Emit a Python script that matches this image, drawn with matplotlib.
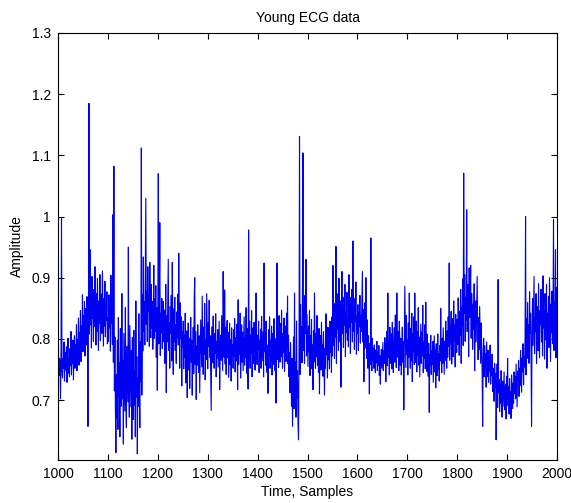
import numpy as np
import matplotlib
matplotlib.use("Agg")
import matplotlib.pyplot as plt

plt.rcParams['font.family'] = ['Liberation Sans', 'DejaVu Sans']

# Amplitude values in thousandths, 50 samples per block, starting at sample 1000
blk_1000 = [752, 781, 740, 768, 762, 702, 771, 998, 745, 736, 768, 752, 795, 731, 778, 749, 760, 787, 729, 772, 801, 744, 769, 738, 784, 756, 812, 741, 775, 760, 798, 733, 781, 805, 752, 790, 764, 823, 748, 799, 771, 834, 757, 810, 782, 846, 763, 821, 790, 872]
blk_1050 = [779, 838, 801, 861, 772, 829, 850, 790, 869, 815, 657, 842, 1185, 808, 946, 823, 871, 785, 902, 834, 858, 796, 881, 820, 918, 843, 790, 874, 812, 899, 836, 781, 862, 825, 905, 797, 851, 873, 809, 911, 842, 788, 866, 821, 894, 803, 858, 830, 877, 792]
blk_1100 = [835, 796, 872, 818, 849, 780, 904, 826, 857, 791, 1003, 762, 1082, 715, 803, 688, 614, 742, 671, 798, 652, 835, 706, 761, 640, 817, 733, 690, 874, 702, 765, 628, 809, 743, 682, 851, 719, 655, 788, 740, 697, 950, 716, 672, 822, 750, 689, 781, 636, 802]
blk_1150 = [725, 668, 814, 692, 748, 640, 862, 705, 771, 612, 737, 690, 841, 716, 655, 795, 730, 1112, 708, 872, 780, 934, 812, 861, 790, 903, 1030, 824, 879, 796, 918, 845, 871, 788, 925, 836, 802, 889, 817, 861, 783, 842, 920, 801, 866, 812, 887, 770, 851, 716]
blk_1200 = [829, 1070, 792, 858, 990, 773, 842, 810, 866, 784, 832, 861, 795, 847, 760, 818, 889, 712, 838, 795, 864, 930, 781, 826, 752, 853, 809, 871, 764, 925, 818, 742, 849, 795, 868, 781, 823, 760, 844, 802, 873, 790, 940, 816, 752, 859, 801, 836, 723, 812]
blk_1250 = [787, 829, 751, 806, 770, 842, 728, 795, 813, 704, 777, 826, 749, 801, 719, 786, 835, 762, 798, 708, 772, 819, 743, 866, 900, 758, 812, 701, 789, 757, 823, 776, 745, 805, 712, 768, 831, 790, 754, 870, 806, 742, 819, 775, 858, 733, 798, 766, 874, 811]
blk_1300 = [751, 826, 788, 863, 770, 805, 742, 683, 797, 820, 761, 837, 784, 752, 809, 776, 841, 738, 796, 768, 815, 754, 790, 829, 717, 781, 806, 765, 838, 793, 748, 910, 802, 770, 880, 759, 819, 742, 793, 830, 769, 811, 737, 785, 826, 758, 799, 731, 818, 772]
blk_1350 = [790, 752, 815, 771, 833, 746, 802, 764, 824, 781, 717, 864, 758, 809, 775, 842, 736, 797, 823, 762, 811, 748, 789, 836, 757, 802, 770, 851, 744, 817, 783, 718, 978, 765, 829, 752, 806, 776, 846, 738, 794, 818, 760, 827, 771, 749, 803, 875, 786, 758]
blk_1400 = [806, 781, 829, 745, 798, 770, 816, 752, 837, 764, 791, 812, 738, 924, 779, 803, 757, 829, 769, 745, 790, 711, 815, 774, 836, 752, 798, 763, 821, 741, 787, 809, 758, 833, 772, 748, 800, 695, 782, 924, 766, 811, 753, 838, 788, 762, 825, 771, 847, 780]
blk_1450 = [752, 809, 778, 834, 747, 796, 821, 763, 842, 785, 870, 759, 806, 738, 777, 712, 794, 748, 690, 768, 657, 731, 803, 686, 875, 714, 762, 672, 829, 705, 748, 661, 635, 779, 1131, 742, 856, 788, 820, 761, 892, 1104, 781, 846, 760, 871, 809, 930, 772, 840]
blk_1500 = [798, 755, 821, 779, 846, 740, 805, 768, 832, 751, 790, 717, 813, 762, 875, 784, 752, 809, 771, 838, 757, 796, 745, 817, 710, 783, 805, 749, 827, 768, 791, 739, 812, 760, 708, 785, 752, 841, 774, 798, 736, 819, 766, 804, 751, 829, 778, 810, 745, 836]
blk_1550 = [772, 920, 789, 858, 768, 831, 802, 951, 760, 874, 815, 846, 781, 899, 827, 795, 862, 721, 842, 910, 809, 868, 786, 853, 822, 889, 771, 845, 811, 876, 798, 834, 787, 905, 819, 852, 776, 868, 827, 881, 795, 960, 812, 849, 783, 866, 828, 893, 775, 838]
blk_1600 = [809, 856, 781, 842, 820, 871, 793, 839, 812, 862, 910, 795, 848, 730, 826, 859, 785, 900, 814, 768, 831, 752, 805, 776, 710, 793, 758, 965, 772, 748, 801, 764, 785, 752, 790, 770, 745, 782, 761, 796, 748, 778, 757, 789, 740, 773, 726, 766, 783, 752]
blk_1650 = [771, 794, 748, 781, 760, 802, 773, 730, 788, 812, 756, 875, 769, 797, 741, 819, 783, 760, 808, 751, 827, 774, 745, 796, 818, 762, 839, 781, 753, 875, 795, 770, 812, 748, 829, 786, 757, 801, 741, 774, 819, 762, 796, 684, 780, 886, 812, 753, 838, 775]
blk_1700 = [799, 741, 826, 770, 875, 788, 752, 817, 764, 842, 730, 809, 779, 836, 758, 875, 794, 761, 829, 746, 812, 773, 851, 757, 803, 738, 786, 824, 760, 811, 772, 855, 745, 796, 768, 823, 751, 860, 784, 747, 808, 769, 739, 793, 680, 774, 757, 806, 742, 781]
blk_1750 = [758, 796, 729, 771, 805, 746, 783, 720, 792, 762, 740, 808, 751, 776, 731, 789, 764, 850, 773, 745, 801, 760, 818, 777, 742, 796, 765, 829, 781, 752, 813, 770, 836, 788, 924, 765, 821, 792, 845, 759, 808, 833, 771, 862, 796, 823, 754, 840, 801, 778]
blk_1800 = [832, 791, 867, 812, 773, 845, 806, 881, 760, 852, 823, 898, 789, 1071, 842, 905, 796, 868, 830, 1011, 812, 889, 847, 771, 916, 835, 862, 920, 801, 874, 840, 783, 857, 816, 890, 748, 829, 862, 795, 848, 902, 811, 766, 835, 782, 853, 804, 760, 826, 791]
blk_1850 = [744, 657, 772, 801, 738, 789, 752, 776, 721, 795, 763, 738, 781, 729, 770, 747, 790, 726, 759, 741, 775, 714, 752, 733, 698, 760, 721, 743, 635, 706, 759, 688, 897, 712, 734, 681, 726, 695, 748, 703, 672, 731, 690, 717, 746, 684, 708, 726, 669, 739]
blk_1900 = [702, 768, 691, 722, 677, 735, 698, 714, 670, 741, 709, 686, 728, 695, 746, 711, 738, 702, 759, 720, 689, 747, 731, 765, 706, 752, 724, 781, 738, 713, 769, 746, 792, 725, 770, 754, 802, 1000, 741, 833, 768, 859, 794, 823, 760, 877, 809, 842, 770, 657]
blk_1950 = [818, 866, 789, 847, 902, 776, 835, 812, 874, 760, 829, 853, 781, 890, 808, 769, 846, 824, 881, 795, 857, 772, 903, 818, 846, 767, 874, 831, 798, 889, 752, 842, 815, 869, 786, 900, 824, 763, 857, 810, 878, 792, 836, 995, 781, 861, 826, 946, 769, 884]

start_sample = 1000
x_ticks = [1000, 1100, 1200, 1300, 1400, 1500, 1600, 1700, 1800, 1900, 2000]
y_ticks = [0.7, 0.8, 0.9, 1.0, 1.1, 1.2, 1.3]
y_ticklabels = ["0.7", "0.8", "0.9", "1", "1.1", "1.2", "1.3"]

blocks = [blk_1000, blk_1050, blk_1100, blk_1150, blk_1200, blk_1250, blk_1300,
          blk_1350, blk_1400, blk_1450, blk_1500, blk_1550, blk_1600, blk_1650,
          blk_1700, blk_1750, blk_1800, blk_1850, blk_1900, blk_1950]
y = np.concatenate([np.array(b, dtype=float) for b in blocks]) / 1000.0
x = start_sample + np.arange(len(y))

fig = plt.figure(figsize=(5.71, 5.03), dpi=100)
ax = fig.add_axes([58/571, 1 - 460/503, (557-58)/571, (460-33)/503])
ax.plot(x, y, color=(0, 0, 0.95), lw=0.8)
ax.set_xlim(1000, 2000)
ax.set_ylim(0.602, 1.3)
ax.set_xticks(x_ticks)
ax.set_yticks(y_ticks)
ax.set_yticklabels(y_ticklabels)
ax.tick_params(direction='in', top=True, right=True, length=4, width=0.8,
               labelsize=10, pad=5)
for s in ax.spines.values():
    s.set_linewidth(0.8)
ax.set_title("Young ECG data", fontsize=10, pad=8)
ax.set_xlabel("Time, Samples", fontsize=10, labelpad=3)
ax.set_ylabel("Amplitude", fontsize=10, labelpad=6)
fig.savefig("out.png", dpi=100)
